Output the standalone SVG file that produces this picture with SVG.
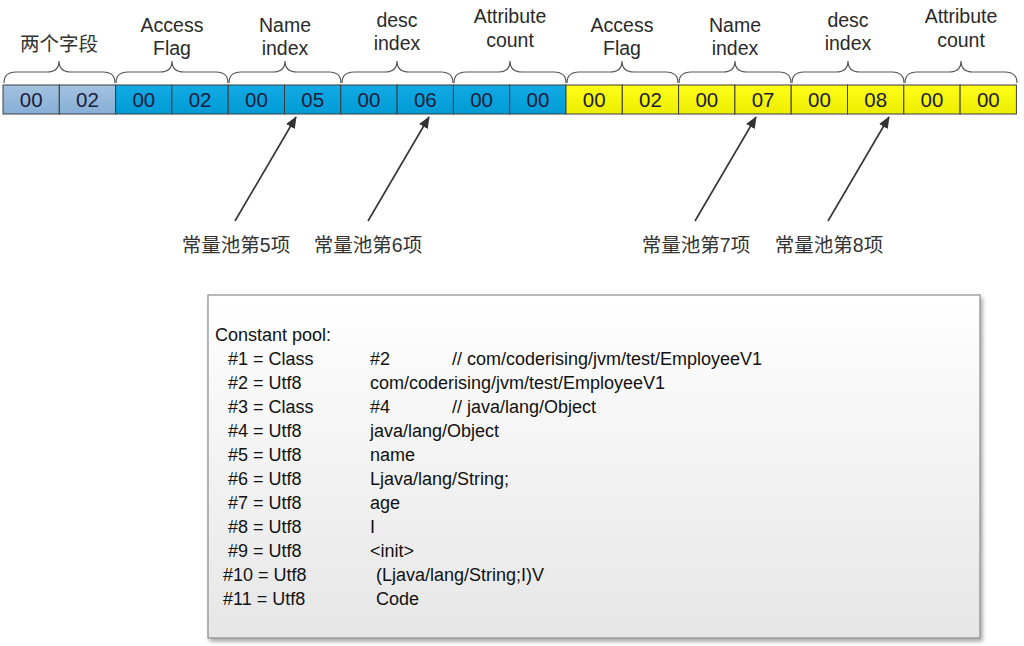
<svg xmlns="http://www.w3.org/2000/svg" width="1024" height="646" viewBox="0 0 1024 646">
<defs>
<linearGradient id="gGray" x1="0" y1="0" x2="0" y2="1"><stop offset="0" stop-color="#a3c2e0"/><stop offset="1" stop-color="#86aed6"/></linearGradient>
<linearGradient id="gBlue" x1="0" y1="0" x2="0" y2="1"><stop offset="0" stop-color="#12aae4"/><stop offset="1" stop-color="#009bd6"/></linearGradient>
<linearGradient id="gYel" x1="0" y1="0" x2="0" y2="1"><stop offset="0" stop-color="#ffff1a"/><stop offset="1" stop-color="#eded00"/></linearGradient>
<linearGradient id="gBox" x1="0" y1="0" x2="0" y2="1"><stop offset="0" stop-color="#ffffff"/><stop offset="1" stop-color="#e6e6e6"/></linearGradient>
<marker id="ah" viewBox="0 0 12 10" refX="11" refY="5" markerWidth="12" markerHeight="10" markerUnits="userSpaceOnUse" orient="auto"><path d="M0,0 L12,5 L0,10 Z" fill="#333"/></marker>
<filter id="sh" x="-5%" y="-5%" width="110%" height="110%"><feDropShadow dx="2" dy="3" stdDeviation="2" flood-color="#000" flood-opacity="0.35"/></filter>
</defs>
<style>
.cell{stroke:#3c3c3c;stroke-width:1}
.ct{font-family:"Liberation Sans",Arial,sans-serif;font-size:20.5px;fill:#1c1c3a;text-anchor:middle}
.lbl{font-family:"Liberation Sans",Arial,sans-serif;font-size:19.5px;fill:#2a2a2a;text-anchor:middle}
.cjk{font-family:"Liberation Sans","Noto Sans CJK SC",sans-serif;font-size:19.5px;fill:#333;text-anchor:middle}
.brace{fill:none;stroke:#555;stroke-width:1.2}
.arr{stroke:#333;stroke-width:1.6;fill:none;marker-end:url(#ah)}
.bt{font-family:"Liberation Sans",Arial,sans-serif;font-size:18px;fill:#111}
</style>
<rect width="1024" height="646" fill="#fff"/>

<g id="cells">
<rect class="cell" x="3" y="85" width="56.3" height="29" fill="url(#gGray)"/>
<rect class="cell" x="59.3" y="85" width="56.3" height="29" fill="url(#gGray)"/>
<rect class="cell" x="115.6" y="85" width="56.3" height="29" fill="url(#gBlue)"/>
<rect class="cell" x="171.9" y="85" width="56.3" height="29" fill="url(#gBlue)"/>
<rect class="cell" x="228.2" y="85" width="56.3" height="29" fill="url(#gBlue)"/>
<rect class="cell" x="284.5" y="85" width="56.3" height="29" fill="url(#gBlue)"/>
<rect class="cell" x="340.8" y="85" width="56.3" height="29" fill="url(#gBlue)"/>
<rect class="cell" x="397.1" y="85" width="56.3" height="29" fill="url(#gBlue)"/>
<rect class="cell" x="453.4" y="85" width="56.3" height="29" fill="url(#gBlue)"/>
<rect class="cell" x="509.7" y="85" width="56.3" height="29" fill="url(#gBlue)"/>
<rect class="cell" x="566" y="85" width="56.3" height="29" fill="url(#gYel)"/>
<rect class="cell" x="622.3" y="85" width="56.3" height="29" fill="url(#gYel)"/>
<rect class="cell" x="678.6" y="85" width="56.3" height="29" fill="url(#gYel)"/>
<rect class="cell" x="734.9" y="85" width="56.3" height="29" fill="url(#gYel)"/>
<rect class="cell" x="791.2" y="85" width="56.3" height="29" fill="url(#gYel)"/>
<rect class="cell" x="847.5" y="85" width="56.3" height="29" fill="url(#gYel)"/>
<rect class="cell" x="903.8" y="85" width="56.3" height="29" fill="url(#gYel)"/>
<rect class="cell" x="960.1" y="85" width="56.3" height="29" fill="url(#gYel)"/>
<text class="ct" x="31.2" y="106.5">00</text>
<text class="ct" x="87.5" y="106.5">02</text>
<text class="ct" x="143.8" y="106.5">00</text>
<text class="ct" x="200.1" y="106.5">02</text>
<text class="ct" x="256.4" y="106.5">00</text>
<text class="ct" x="312.7" y="106.5">05</text>
<text class="ct" x="369" y="106.5">00</text>
<text class="ct" x="425.3" y="106.5">06</text>
<text class="ct" x="481.6" y="106.5">00</text>
<text class="ct" x="537.9" y="106.5">00</text>
<text class="ct" x="594.2" y="106.5">00</text>
<text class="ct" x="650.5" y="106.5">02</text>
<text class="ct" x="706.8" y="106.5">00</text>
<text class="ct" x="763.1" y="106.5">07</text>
<text class="ct" x="819.4" y="106.5">00</text>
<text class="ct" x="875.7" y="106.5">08</text>
<text class="ct" x="932" y="106.5">00</text>
<text class="ct" x="988.3" y="106.5">00</text>
</g>

<g id="braces">
<path class="brace" d="M4,83 Q4,72 16,72 L47,72 Q59,72 59,61 Q59,72 71,72 L103,72 Q115,72 115,83"/>
<path class="brace" d="M116,83 Q116,72 128,72 L160,72 Q172,72 172,61 Q172,72 184,72 L216,72 Q228,72 228,83"/>
<path class="brace" d="M229,83 Q229,72 241,72 L273,72 Q285,72 285,61 Q285,72 297,72 L329,72 Q341,72 341,83"/>
<path class="brace" d="M342,83 Q342,72 354,72 L385,72 Q397,72 397,61 Q397,72 409,72 L441,72 Q453,72 453,83"/>
<path class="brace" d="M454,83 Q454,72 466,72 L498,72 Q510,72 510,61 Q510,72 522,72 L554,72 Q566,72 566,83"/>
<path class="brace" d="M567,83 Q567,72 579,72 L610,72 Q622,72 622,61 Q622,72 634,72 L666,72 Q678,72 678,83"/>
<path class="brace" d="M679,83 Q679,72 691,72 L723,72 Q735,72 735,61 Q735,72 747,72 L779,72 Q791,72 791,83"/>
<path class="brace" d="M792,83 Q792,72 804,72 L836,72 Q848,72 848,61 Q848,72 860,72 L892,72 Q904,72 904,83"/>
<path class="brace" d="M905,83 Q905,72 917,72 L949,72 Q961,72 961,61 Q961,72 973,72 L1005,72 Q1017,72 1017,83"/>
</g>

<g id="labels">
<text class="cjk" x="59" y="51">两个字段</text>
<text class="lbl" x="172" y="32">Access</text><text class="lbl" x="172" y="55">Flag</text>
<text class="lbl" x="285" y="32">Name</text><text class="lbl" x="285" y="55">index</text>
<text class="lbl" x="397" y="27">desc</text><text class="lbl" x="397" y="50">index</text>
<text class="lbl" x="510" y="23">Attribute</text><text class="lbl" x="510" y="47">count</text>
<text class="lbl" x="622" y="32">Access</text><text class="lbl" x="622" y="55">Flag</text>
<text class="lbl" x="735" y="32">Name</text><text class="lbl" x="735" y="55">index</text>
<text class="lbl" x="848" y="27">desc</text><text class="lbl" x="848" y="50">index</text>
<text class="lbl" x="961" y="23">Attribute</text><text class="lbl" x="961" y="47">count</text>
</g>

<g id="connectors">
<line class="arr" x1="235" y1="221" x2="296" y2="117"/>
<line class="arr" x1="368" y1="221" x2="429" y2="117"/>
<line class="arr" x1="695" y1="221" x2="756" y2="117"/>
<line class="arr" x1="828" y1="221" x2="889" y2="117"/>
</g>

<g id="refs">
<text class="cjk" x="236" y="252">常量池第5项</text>
<text class="cjk" x="368" y="252">常量池第6项</text>
<text class="cjk" x="696" y="252">常量池第7项</text>
<text class="cjk" x="829" y="252">常量池第8项</text>
</g>

<g id="pool">
<rect x="208" y="295" width="772" height="343" fill="url(#gBox)" stroke="#8a8a8a" stroke-width="1.2" filter="url(#sh)"/>
<text class="bt" x="215" y="341">Constant pool:</text>
<text class="bt" x="228" y="365">#1 = Class</text><text class="bt" x="370" y="365">#2</text><text class="bt" x="452" y="365">// com/coderising/jvm/test/EmployeeV1</text>
<text class="bt" x="228" y="389">#2 = Utf8</text><text class="bt" x="370" y="389">com/coderising/jvm/test/EmployeeV1</text>
<text class="bt" x="228" y="413">#3 = Class</text><text class="bt" x="370" y="413">#4</text><text class="bt" x="452" y="413">// java/lang/Object</text>
<text class="bt" x="228" y="437">#4 = Utf8</text><text class="bt" x="370" y="437">java/lang/Object</text>
<text class="bt" x="228" y="461">#5 = Utf8</text><text class="bt" x="370" y="461">name</text>
<text class="bt" x="228" y="485">#6 = Utf8</text><text class="bt" x="370" y="485">Ljava/lang/String;</text>
<text class="bt" x="228" y="509">#7 = Utf8</text><text class="bt" x="370" y="509">age</text>
<text class="bt" x="228" y="533">#8 = Utf8</text><text class="bt" x="370" y="533">I</text>
<text class="bt" x="228" y="557">#9 = Utf8</text><text class="bt" x="370" y="557">&lt;init&gt;</text>
<text class="bt" x="223" y="581">#10 = Utf8</text><text class="bt" x="376" y="581">(Ljava/lang/String;I)V</text>
<text class="bt" x="223" y="605">#11 = Utf8</text><text class="bt" x="376" y="605">Code</text>
</g>
</svg>
